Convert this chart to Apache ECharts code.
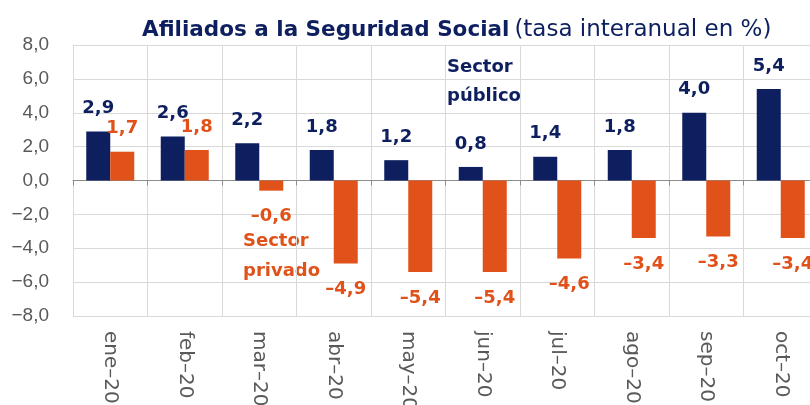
<!DOCTYPE html>
<html>
<head>
<meta charset="utf-8">
<script src="https://cdn.jsdelivr.net/npm/echarts@6/dist/echarts.min.js"></script>
<style>html,body{margin:0;padding:0;background:#fff}#c{width:810px;height:405px}</style>
</head>
<body>
<div id="c"></div>
<script>
var categories = ['ene-20','feb-20','mar-20','abr-20','may-20','jun-20','jul-20','ago-20','sep-20','oct-20'];
var publico = [2.9, 2.6, 2.2, 1.8, 1.2, 0.8, 1.4, 1.8, 4.0, 5.4];
var privado = [1.7, 1.8, -0.6, -4.9, -5.4, -5.4, -4.6, -3.4, -3.3, -3.4];
var yTicks = {min: -8, max: 8, interval: 2};

var NAVY = '#0d1f5e', ORANGE = '#e0521a', GRID = '#d9d9d9', AXIS = '#595959';
var LBLFONT = '"DejaVu Sans", sans-serif';
function fmt(v){ return v.toFixed(1).replace('.', ',').replace('-', '\u2013'); }

var chart = echarts.init(document.getElementById('c'), null, {renderer: 'canvas'});
chart.setOption({
  animation: false,
  backgroundColor: '#fff',
  title: {
    left: 137, top: 14,
    text: '{b|Afiliados a la Seguridad Social} {n|(tasa interanual en %)}',
    textStyle: {
      rich: {
        b: {fontFamily: LBLFONT, fontWeight: 'bold', fontSize: 21.5, color: NAVY},
        n: {fontFamily: LBLFONT, fontWeight: 'normal', fontSize: 23, color: NAVY}
      }
    }
  },
  grid: {left: 73, right: -8, top: 45, bottom: 89, containLabel: false, outerBoundsMode: 'none'},
  xAxis: [{
    type: 'category', data: categories, position: 'bottom',
    axisLine: {show: false, onZero: false}, axisTick: {show: false},
    splitLine: {show: true, lineStyle: {color: GRID, width: 1}},
    axisLabel: {rotate: -90, margin: 15, color: AXIS, fontSize: 20, fontFamily: '"DejaVu Sans", sans-serif',
      formatter: function(s){ return s.replace('-', '\u2013'); }}
  }, {
    type: 'category', data: categories, position: 'top',
    axisLine: {show: true, onZero: true, lineStyle: {color: '#8c8c8c', width: 1}},
    axisTick: {show: true, inside: true, length: 5, lineStyle: {color: '#8c8c8c'}},
    axisLabel: {show: false}, splitLine: {show: false}
  }],
  yAxis: {
    type: 'value', min: yTicks.min, max: yTicks.max, interval: yTicks.interval,
    axisLine: {show: true, lineStyle: {color: GRID}},
    axisTick: {show: false},
    splitLine: {lineStyle: {color: GRID, width: 1}},
    axisLabel: {margin: 24, color: AXIS, fontSize: 19, fontFamily: '"Liberation Sans", Arial, sans-serif',
      formatter: function(v){ return v.toFixed(1).replace('.', ',').replace('-', '\u2212'); }}
  },
  series: [{
    name: 'Sector público', type: 'bar', xAxisIndex: 0, data: publico,
    barWidth: 24, barGap: '0%',
    itemStyle: {color: NAVY},
    label: {show: true, position: 'top', distance: 14, color: NAVY, fontFamily: LBLFONT,
      fontWeight: 'bold', fontSize: 18, formatter: function(p){ return fmt(p.value); }}
  }, {
    name: 'Sector privado', type: 'bar', xAxisIndex: 0,
    data: privado.map(function(v){
      return {value: v, label: {position: v < 0 ? 'bottom' : 'top', distance: v < 0 ? 17 : 14}};
    }),
    barWidth: 24, barGap: '0%',
    itemStyle: {color: ORANGE},
    label: {show: true, color: ORANGE, fontFamily: LBLFONT,
      fontWeight: 'bold', fontSize: 18, formatter: function(p){ return fmt(p.value); }}
  }],
  graphic: [{
    type: 'text', left: 447, top: 53,
    style: {text: 'Sector\npúblico', fill: NAVY, font: 'bold 18px "DejaVu Sans", sans-serif', lineHeight: 29}
  }, {
    type: 'text', left: 243, top: 226,
    style: {text: 'Sector\nprivado', fill: ORANGE, font: 'bold 18px "DejaVu Sans", sans-serif', lineHeight: 30}
  }]
});
</script>
</body>
</html>
